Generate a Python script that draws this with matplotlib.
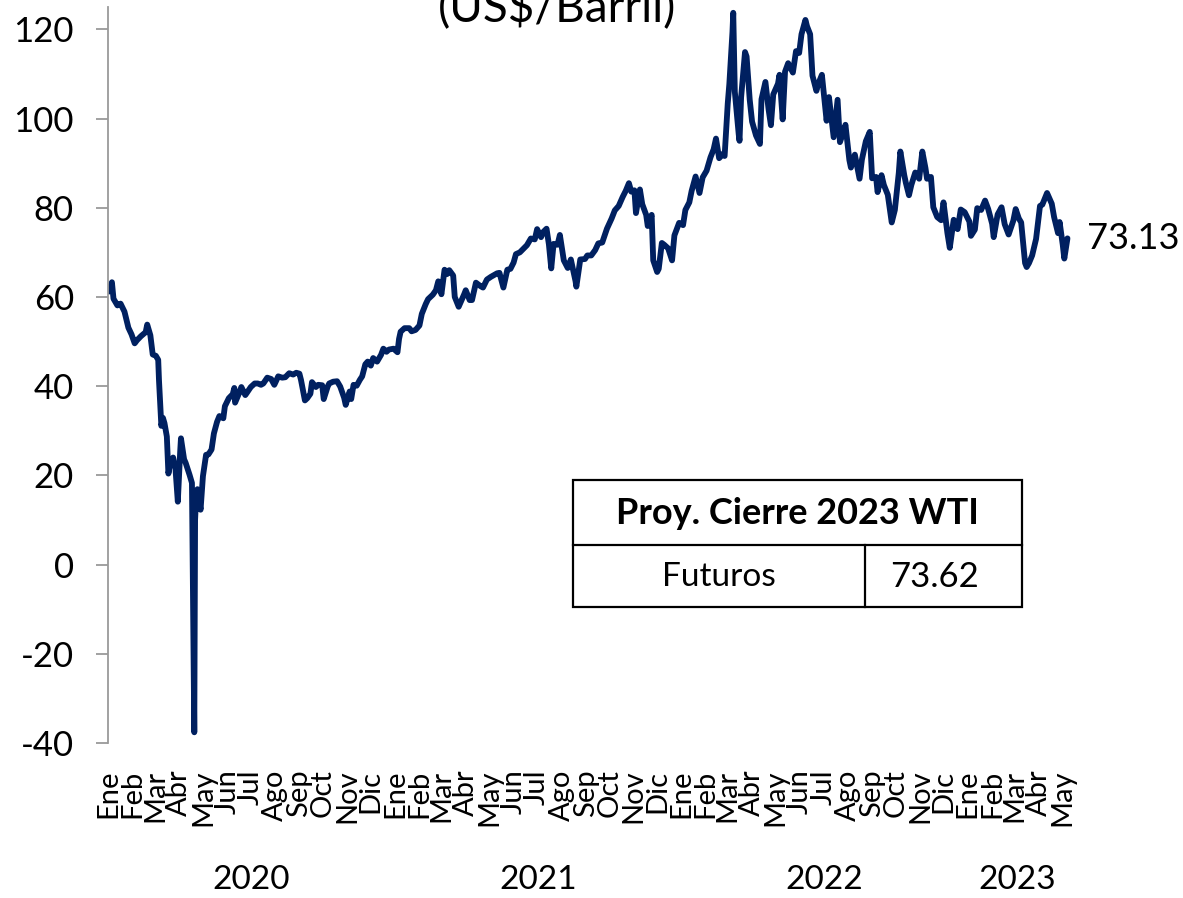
import numpy as np
import pandas as pd
import matplotlib
matplotlib.use("Agg")
import matplotlib.pyplot as plt
from matplotlib.patches import Rectangle
from matplotlib.lines import Line2D
from matplotlib.transforms import blended_transform_factory

plt.rcParams['font.family'] = ['Lato', 'DejaVu Sans']
plt.rcParams['axes.unicode_minus'] = False

# WTI (US$/barril), valores
days_2020 = ["01-02", "01-06", "01-08", "01-13", "01-17", "01-22", "01-27", "01-31",
             "02-04", "02-07", "02-12", "02-18", "02-20", "02-24", "02-27",
             "03-02", "03-05", "03-06", "03-09", "03-11", "03-13", "03-16", "03-18",
             "03-20", "03-24", "03-27", "03-30",
             "04-02", "04-03", "04-07", "04-09", "04-14", "04-17", "04-20", "04-21",
             "04-22", "04-24", "04-28",
             "05-01", "05-05", "05-08", "05-12", "05-15", "05-19", "05-22", "05-27", "05-29",
             "06-03", "06-08", "06-10", "06-11", "06-16", "06-19", "06-24", "06-26",
             "07-01", "07-06", "07-10", "07-14", "07-17", "07-22", "07-27", "07-31",
             "08-05", "08-10", "08-14", "08-19", "08-24", "08-28",
             "09-01", "09-03", "09-08", "09-11", "09-15", "09-17", "09-22", "09-25", "09-30",
             "10-02", "10-07", "10-09", "10-14", "10-19", "10-23", "10-28", "10-30",
             "11-04", "11-06", "11-09", "11-13", "11-17", "11-20", "11-24", "11-27",
             "12-01", "12-04", "12-09", "12-14", "12-17", "12-21", "12-24", "12-30"]
wti_2020 = [61.2, 63.3, 59.6, 58.1, 58.5, 56.7, 53.1, 51.6,
            49.6, 50.3, 51.2, 52.1, 53.8, 51.4, 47.1,
            46.8, 45.9, 41.3, 31.1, 32.9, 31.7, 28.7, 20.4,
            22.4, 24.0, 21.5, 14.1,
            25.3, 28.3, 23.6, 22.8, 20.1, 18.3, -37.6, 10.0,
            13.8, 16.9, 12.3,
            19.8, 24.6, 24.7, 25.8, 29.4, 32.0, 33.3, 32.8, 35.5,
            37.3, 38.2, 39.6, 36.3, 38.4, 39.8, 38.0, 38.5,
            39.8, 40.6, 40.6, 40.3, 40.6, 41.9, 41.6, 40.3,
            42.2, 41.9, 42.0, 42.9, 42.6, 43.0,
            42.8, 41.4, 36.8, 37.3, 38.3, 40.9, 39.8, 40.3, 40.2,
            37.1, 39.9, 40.6, 41.0, 41.1, 39.9, 37.4, 35.8,
            38.8, 37.1, 40.3, 40.1, 41.4, 42.2, 44.9, 45.5,
            44.6, 46.3, 45.5, 47.0, 48.4, 47.7, 48.2, 48.4]

days_2021 = ["01-04", "01-06", "01-08", "01-13", "01-19", "01-22", "01-27",
             "02-01", "02-04", "02-09", "02-12", "02-18", "02-22", "02-25",
             "03-01", "03-05", "03-08", "03-11", "03-16", "03-18", "03-23", "03-25", "03-30",
             "04-01", "04-06", "04-09", "04-14", "04-20", "04-23", "04-28",
             "05-03", "05-07", "05-11", "05-14", "05-19", "05-24", "05-28",
             "06-01", "06-04", "06-09", "06-14", "06-18", "06-23", "06-28",
             "07-01", "07-06", "07-09", "07-13", "07-16", "07-19", "07-22", "07-27", "07-30",
             "08-04", "08-09", "08-13", "08-19", "08-20", "08-25", "08-31",
             "09-03", "09-08", "09-13", "09-17", "09-22", "09-28",
             "10-04", "10-08", "10-13", "10-18", "10-22", "10-26", "10-29",
             "11-02", "11-04", "11-09", "11-12", "11-17", "11-19", "11-24", "11-26",
             "12-01", "12-03", "12-07", "12-10", "12-15", "12-20", "12-23", "12-29"]
wti_2021 = [47.6, 50.6, 52.2, 53.0, 53.0, 52.3, 52.6,
            53.6, 56.2, 58.4, 59.5, 60.5, 61.5, 63.5,
            60.6, 66.1, 65.1, 66.0, 64.8, 60.0, 57.8, 58.6, 60.6,
            61.5, 59.3, 59.3, 63.2, 62.4, 62.1, 63.9,
            64.5, 64.9, 65.3, 65.4, 62.1, 66.1, 66.3,
            67.7, 69.6, 70.0, 70.9, 71.6, 73.1, 72.9,
            75.2, 73.4, 74.6, 75.3, 71.8, 66.4, 71.9, 71.7, 73.9,
            68.2, 66.5, 68.4, 63.5, 62.3, 68.4, 68.5,
            69.3, 69.3, 70.5, 72.0, 72.2, 75.3,
            77.6, 79.4, 80.4, 82.4, 83.8, 85.5, 83.6,
            83.9, 78.8, 84.1, 80.8, 78.4, 75.9, 78.4, 68.2,
            65.6, 66.3, 72.1, 71.7, 70.9, 68.2, 73.8, 76.6]

days_2022 = ["01-03", "01-06", "01-11", "01-14", "01-19", "01-24", "01-28",
             "02-02", "02-07", "02-11", "02-14", "02-18", "02-23", "02-25",
             "03-01", "03-03", "03-07", "03-08", "03-10", "03-15", "03-16", "03-18",
             "03-23", "03-25", "03-29",
             "04-01", "04-06", "04-11", "04-13", "04-18", "04-22", "04-25", "04-28",
             "05-04", "05-06", "05-10", "05-13", "05-17", "05-23", "05-27", "05-31",
             "06-03", "06-08", "06-10", "06-14", "06-17", "06-22", "06-24", "06-29",
             "07-05", "07-08", "07-14", "07-19", "07-22", "07-27", "07-29",
             "08-03", "08-05", "08-10", "08-16", "08-19", "08-24", "08-29",
             "09-01", "09-06", "09-08", "09-13", "09-16", "09-21", "09-26", "09-30",
             "10-05", "10-07", "10-12", "10-14", "10-18", "10-21", "10-26", "10-31",
             "11-04", "11-08", "11-10", "11-15", "11-18", "11-23", "11-28",
             "12-01", "12-06", "12-09", "12-14", "12-19", "12-23", "12-28"]
wti_2022 = [76.1, 79.5, 81.2, 83.8, 87.0, 83.3, 86.8,
            88.3, 91.3, 93.1, 95.5, 91.1, 92.1, 91.6,
            103.4, 107.7, 119.4, 123.7, 106.0, 96.4, 95.0, 104.7,
            114.9, 113.9, 104.2,
            99.3, 96.2, 94.3, 104.3, 108.2, 102.1, 98.5, 105.4,
            107.8, 109.8, 99.8, 110.5, 112.4, 110.3, 115.1, 114.7,
            118.9, 122.1, 120.7, 118.9, 109.6, 106.2, 107.6, 109.8,
            99.5, 104.8, 95.8, 104.2, 94.7, 97.3, 98.6,
            90.7, 89.0, 91.9, 86.5, 90.8, 94.9, 97.0,
            86.6, 86.9, 83.5, 87.3, 85.1, 82.9, 76.7, 79.5,
            87.8, 92.6, 87.3, 85.6, 82.8, 85.1, 87.9, 86.5,
            92.6, 88.9, 86.5, 86.9, 80.1, 77.9, 77.2,
            81.2, 74.3, 71.0, 77.3, 75.2, 79.6, 79.0]

days_2023 = ["01-03", "01-05", "01-10", "01-13", "01-18", "01-23", "01-27",
             "02-01", "02-03", "02-08", "02-13", "02-17", "02-22", "02-28",
             "03-03", "03-07", "03-10", "03-15", "03-17", "03-20", "03-24", "03-29",
             "04-03", "04-06", "04-12", "04-18", "04-21", "04-26", "04-28",
             "05-02", "05-04", "05-08"]
wti_2023 = [76.9, 73.7, 75.1, 79.9, 79.5, 81.6, 79.7,
            76.4, 73.4, 78.5, 80.1, 76.3, 74.0, 77.1,
            79.7, 77.6, 76.7, 67.6, 66.7, 67.6, 69.3, 73.0,
            80.4, 80.7, 83.3, 80.9, 77.9, 74.3, 76.8,
            71.7, 68.6, 73.13]

years = [2020, 2021, 2022, 2023]
month_names = ["Ene", "Feb", "Mar", "Abr", "May", "Jun",
               "Jul", "Ago", "Sep", "Oct", "Nov", "Dic"]
last_label = "73.13"
table_title = "Proy. Cierre 2023 WTI"
table_row = ["Futuros", "73.62"]
subtitle = "(US$/Barril)"

dates = pd.to_datetime([f"{y}-{d}" for y, ds in zip(years, [days_2020, days_2021, days_2022, days_2023]) for d in ds])
wti = np.array(wti_2020 + wti_2021 + wti_2022 + wti_2023)

W, H = 1183, 898
fig = plt.figure(figsize=(W / 100, H / 100), dpi=100)
ax = fig.add_axes([108 / W, 1 - 743 / H, 972 / W, 736 / H])

ax.plot(dates, wti, color="#002060", lw=4.2, solid_joinstyle="round", solid_capstyle="round")

ax.set_ylim(-40, 125)
ax.set_yticks(np.arange(-40, 121, 20))
ax.set_xlim(pd.Timestamp("2020-01-01"), pd.Timestamp("2023-05-24"))

for s in ["top", "right", "bottom"]:
    ax.spines[s].set_visible(False)
ax.spines["left"].set_color("#9a9a9a")
ax.spines["left"].set_linewidth(1.3)
ax.tick_params(axis="y", direction="out", length=8.5, width=1.3, color="#9a9a9a",
               pad=16, labelsize=25)

month_starts = pd.date_range("2020-01-01", "2023-05-01", freq="MS")
ax.set_xticks(month_starts)
ax.set_xticklabels([month_names[m.month - 1] for m in month_starts], rotation=90,
                   fontsize=21)
ax.tick_params(axis="x", length=0, pad=19)

# years below the months
trans = blended_transform_factory(ax.transData, ax.transAxes)
for y in years:
    start = pd.Timestamp(f"{y}-01-01")
    end = min(pd.Timestamp(f"{y}-12-31"), dates[-1])
    mid = start + (end - start) / 2
    ax.text(mid, -0.186, str(y), transform=trans, ha="center", va="center", fontsize=24)

ax.annotate(last_label, (dates[-1], wti[-1]), xytext=(14, 0), textcoords="offset points",
            ha="left", va="center", fontsize=26)

fig.text(557 / W, 1 - 22 / H, subtitle, ha="center", va="baseline", fontsize=33)

# projection box
def fx(px):
    return px / W

def fy(py):
    return 1 - py / H

box = Rectangle((fx(573), fy(607)), fx(1022) - fx(573), fy(480) - fy(607),
                transform=fig.transFigure, fill=False, edgecolor="black", lw=1.6)
fig.add_artist(box)
fig.add_artist(Line2D([fx(573), fx(1022)], [fy(545), fy(545)], transform=fig.transFigure,
                      color="black", lw=1.6))
fig.add_artist(Line2D([fx(865), fx(865)], [fy(545), fy(607)], transform=fig.transFigure,
                      color="black", lw=1.6))
fig.text(fx(797), fy(513), table_title, ha="center", va="center", fontsize=26,
         fontweight="bold")
fig.text(fx(719), fy(577), table_row[0], ha="center", va="center", fontsize=24)
fig.text(fx(935), fy(577), table_row[1], ha="center", va="center", fontsize=25)

fig.savefig("out.png", dpi=100)
